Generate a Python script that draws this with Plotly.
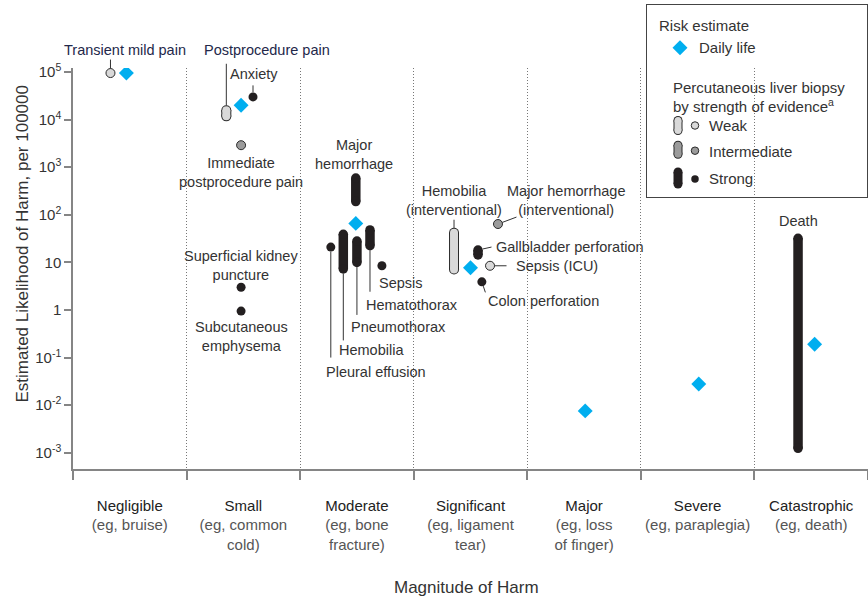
import math
import plotly.graph_objects as go

# ---------------- data ----------------
categories = ["Negligible", "Small", "Moderate", "Significant", "Major", "Severe", "Catastrophic"]
examples = ["(eg, bruise)", "(eg, common<br>cold)", "(eg, bone<br>fracture)", "(eg, ligament<br>tear)",
            "(eg, loss<br>of finger)", "(eg, paraplegia)", "(eg, death)"]

# Risk estimate, daily life (per 100000)
daily_life = [95000, 20000, 66, 7.7, 0.0076, 0.028, 0.19]
daily_offset = [-0.03, -0.02, -0.01, 0.0, 0.01, 0.01, 0.03]

# Percutaneous liver biopsy harms (per 100000)
harm_names = ["Transient mild pain", "Postprocedure pain", "Anxiety", "Immediate postprocedure pain",
              "Superficial kidney puncture", "Subcutaneous emphysema", "Major hemorrhage",
              "Pleural effusion", "Hemobilia", "Pneumothorax", "Hematothorax", "Sepsis",
              "Hemobilia (interventional)", "Gallbladder perforation", "Sepsis (ICU)",
              "Colon perforation", "Major hemorrhage (interventional)", "Death"]
harm_category = [0, 1, 1, 1, 1, 1, 2, 2, 2, 2, 2, 2, 3, 3, 3, 3, 3, 6]
harm_offset = [-0.17, -0.15, 0.085, -0.02, -0.02, -0.02, -0.01, -0.23, -0.12, 0.0, 0.115, 0.22,
               -0.145, 0.066, 0.172, 0.10, 0.242, -0.116]
harm_low = [95000, 11700, 30000, 2900, 3.0, 0.95, 190, 21, 7.3, 10, 22.5, 8.5, 7.1, 14.3, 8.5, 3.9, 64, 0.00124]
harm_high = [95000, 15700, 30000, 2900, 3.0, 0.95, 590, 21, 39, 28, 48, 8.5, 42, 18.2, 8.5, 3.9, 64, 32]
harm_evidence = ["Weak", "Weak", "Strong", "Intermediate", "Strong", "Strong", "Strong", "Strong",
                 "Strong", "Strong", "Strong", "Strong", "Weak", "Strong", "Weak", "Strong",
                 "Intermediate", "Strong"]

y_tick_vals = [1e-3, 1e-2, 1e-1, 1, 10, 1e2, 1e3, 1e4, 1e5]
y_tick_text = ["10<sup>-3</sup>", "10<sup>-2</sup>", "10<sup>-1</sup>", "1", "10",
               "10<sup>2</sup>", "10<sup>3</sup>", "10<sup>4</sup>", "10<sup>5</sup>"]

# ---------------- styles ----------------
FONT = "Liberation Sans, Arial, Helvetica, sans-serif"
DARK = "#231f20"
OUTLINE = "#2a2a2a"
FILL = {"Weak": "#d9d9d9", "Intermediate": "#9b9b9b", "Strong": DARK}
CYAN = "#00aeef"
TXT = "#333333"
NAVY = "#23284a"
AXC = "#858585"

# label placement: name -> (text, end, dx px, dy px (up), xanchor, color)
label_spec = {
    "Transient mild pain": ("Transient mild pain", "hi", 15, 23, "center", NAVY),
    "Postprocedure pain": ("Postprocedure pain", "hi", 41, 60, "center", NAVY),
    "Anxiety": ("Anxiety", "hi", 1, 22.6, "center", TXT),
    "Immediate postprocedure pain": ("Immediate<br>postprocedure pain", "hi", 0, -27.3, "center", TXT),
    "Superficial kidney puncture": ("Superficial kidney<br>puncture", "hi", 0, 22.3, "center", TXT),
    "Subcutaneous emphysema": ("Subcutaneous<br>emphysema", "hi", 0, -25.2, "center", TXT),
    "Major hemorrhage": ("Major<br>hemorrhage", "hi", -1.8, 23.9, "center", TXT),
    "Pleural effusion": ("Pleural effusion", "lo", 45, -124.6, "center", TXT),
    "Hemobilia": ("Hemobilia", "lo", 27.8, -81.1, "center", TXT),
    "Pneumothorax": ("Pneumothorax", "lo", 41.3, -64.9, "center", TXT),
    "Hematothorax": ("Hematothorax", "lo", 42.2, -59.3, "center", TXT),
    "Sepsis": ("Sepsis", "lo", 19, -17.5, "center", TXT),
    "Hemobilia (interventional)": ("Hemobilia<br>(interventional)", "hi", 0, 32.3, "center", TXT),
    "Gallbladder perforation": ("Gallbladder perforation", "hi", 16.3, 3.3, "left", TXT),
    "Sepsis (ICU)": ("Sepsis (ICU)", "hi", 24.3, 0, "left", TXT),
    "Colon perforation": ("Colon perforation", "hi", 62, -19.1, "center", TXT),
    "Major hemorrhage (interventional)": ("Major hemorrhage<br>(interventional)", "hi", 67.8, 23.6, "center", TXT),
    "Death": ("Death", "hi", 0, 17.4, "center", TXT),
}
# leader lines: name -> (end, ax px, ay px (down), standoff)
leader_spec = {
    "Transient mild pain": ("hi", 0, -15, 4.5),
    "Postprocedure pain": ("hi", 0, -48, 4.7),
    "Anxiety": ("hi", 0, -13, 4.5),
    "Pleural effusion": ("lo", 0, 112, 4.5),
    "Hemobilia": ("lo", 0, 73, 4.7),
    "Pneumothorax": ("lo", 0, 54, 4.7),
    "Hematothorax": ("lo", 0, 47.6, 4.7),
    "Hemobilia (interventional)": ("hi", 0, -14.5, 4.7),
    "Gallbladder perforation": ("hi", 15, -3.3, 5),
    "Sepsis (ICU)": ("hi", 18, 0, 4.5),
    "Colon perforation": ("hi", 4, 12, 4.5),
    "Major hemorrhage (interventional)": ("hi", 20, -7.5, 4.5),
}

fig = go.Figure()

harm_x = [c + o for c, o in zip(harm_category, harm_offset)]

# ---------- pills (ranges) ----------
def pill_xy(level):
    xs, ys = [], []
    for x, lo, hi, ev in zip(harm_x, harm_low, harm_high, harm_evidence):
        if ev == level and hi > lo:
            xs += [x, x, None]
            ys += [lo, hi, None]
    return xs, ys

xs, ys = pill_xy("Weak")
fig.add_trace(go.Scatter(x=xs, y=ys, mode="lines+markers", line=dict(color=OUTLINE, width=10),
                         marker=dict(size=10, color=OUTLINE), hoverinfo="skip"))
fig.add_trace(go.Scatter(x=xs, y=ys, mode="lines+markers", line=dict(color=FILL["Weak"], width=8),
                         marker=dict(size=8, color=FILL["Weak"]), hoverinfo="skip"))
xs, ys = pill_xy("Strong")
fig.add_trace(go.Scatter(x=xs, y=ys, mode="lines+markers", line=dict(color=DARK, width=9.5),
                         marker=dict(size=9.5, color=DARK), hoverinfo="skip"))

# ---------- single-value points ----------
for level in ["Weak", "Intermediate", "Strong"]:
    px_, py_ = [], []
    for x, lo, hi, ev in zip(harm_x, harm_low, harm_high, harm_evidence):
        if ev == level and hi == lo:
            px_.append(x)
            py_.append(lo)
    if px_:
        fig.add_trace(go.Scatter(x=px_, y=py_, mode="markers",
                                 marker=dict(size=9, color=FILL[level],
                                             line=dict(color=OUTLINE, width=0 if level == "Strong" else 1)),
                                 hoverinfo="skip"))

# ---------- daily life ----------
fig.add_trace(go.Scatter(x=[i + o for i, o in enumerate(daily_offset)], y=daily_life, mode="markers",
                         marker=dict(symbol="diamond", size=11.5, color=CYAN), hoverinfo="skip"))

# ---------- annotations ----------
annotations = []
for name, x, lo, hi in zip(harm_names, harm_x, harm_low, harm_high):
    text, end, dx, dy, xa, col = label_spec[name]
    yv = math.log10(hi if end == "hi" else lo)
    annotations.append(dict(x=x, y=yv, xref="x", yref="y", text=text, showarrow=False,
                            xshift=dx, yshift=dy, xanchor=xa, yanchor="middle", align="center",
                            font=dict(family=FONT, size=14.5, color=col)))
    if name in leader_spec:
        end, ax, ay, so = leader_spec[name]
        yv = math.log10(hi if end == "hi" else lo)
        annotations.append(dict(x=x, y=yv, xref="x", yref="y", text="", showarrow=True,
                                arrowhead=0, arrowwidth=1, arrowcolor="#333333",
                                ax=ax, ay=ay, standoff=so, font=dict(size=1)))

# axis titles
annotations.append(dict(x=-0.064, y=0.481, xref="paper", yref="paper", text="Estimated Likelihood of Harm, per 100000",
                        textangle=-90, showarrow=False, xanchor="center", yanchor="middle",
                        font=dict(family=FONT, size=17, color=TXT)))
annotations.append(dict(x=0.495, y=-0.2516, xref="paper", yref="paper", text="Magnitude of Harm",
                        showarrow=False, xanchor="center", yanchor="middle",
                        font=dict(family=FONT, size=17, color=TXT)))

# ---------- legend (own small axes, pixel-like units) ----------
legend_texts = [("Risk estimate", 656.7, 25), ("Daily life", 697, 47.7),
                ("Percutaneous liver biopsy", 671, 87.3), ("by strength of evidence<sup>a</sup>", 671, 105),
                ("Weak", 707, 125.5), ("Intermediate", 707, 151.5), ("Strong", 707, 178)]
for t, x, y in legend_texts:
    annotations.append(dict(x=x, y=y, xref="x2", yref="y2", text=t, showarrow=False,
                            xanchor="left", yanchor="middle", font=dict(family=FONT, size=15, color=TXT)))

fig.add_trace(go.Scatter(x=[680], y=[47.7], xaxis="x2", yaxis="y2", mode="markers",
                         marker=dict(symbol="diamond", size=11.5, color=CYAN), hoverinfo="skip"))
leg_rows = [("Weak", 125.5, 5), ("Intermediate", 149.7, 4.5), ("Strong", 178, 6)]
for level, yc, half in leg_rows:
    if level == "Strong":
        fig.add_trace(go.Scatter(x=[678, 678], y=[yc - half, yc + half], xaxis="x2", yaxis="y2",
                                 mode="lines+markers", line=dict(color=DARK, width=9),
                                 marker=dict(size=9, color=DARK), hoverinfo="skip"))
    else:
        fig.add_trace(go.Scatter(x=[678, 678], y=[yc - half, yc + half], xaxis="x2", yaxis="y2",
                                 mode="lines+markers", line=dict(color=OUTLINE, width=9),
                                 marker=dict(size=9, color=OUTLINE), hoverinfo="skip"))
        fig.add_trace(go.Scatter(x=[678, 678], y=[yc - half, yc + half], xaxis="x2", yaxis="y2",
                                 mode="lines+markers", line=dict(color=FILL[level], width=7),
                                 marker=dict(size=7, color=FILL[level]), hoverinfo="skip"))
    fig.add_trace(go.Scatter(x=[695], y=[yc + (1 if level != "Weak" else 0)], xaxis="x2", yaxis="y2",
                             mode="markers",
                             marker=dict(size=7.5, color=FILL[level],
                                         line=dict(color=OUTLINE, width=0 if level == "Strong" else 1)),
                             hoverinfo="skip"))

x_ticktext = [f"<span style='color:#222'>{c}</span><br><span style='color:#555'>{e}</span>"
              for c, e in zip(categories, examples)]

fig.update_layout(
    width=868, height=598, autosize=False,
    margin=dict(l=73, r=0, t=0, b=129, pad=0, autoexpand=False),
    paper_bgcolor="white", plot_bgcolor="rgba(0,0,0,0)",
    showlegend=False,
    font=dict(family=FONT, color=TXT),
    annotations=annotations,
    xaxis=dict(range=[-0.5, 6.5], domain=[0, 1], anchor="y", automargin=False,
               tickmode="array", tickvals=list(range(len(categories))), ticktext=x_ticktext,
               ticks="outside", ticklen=22, tickcolor="rgba(0,0,0,0)",
               tickfont=dict(family=FONT, size=15, color=TXT),
               showline=True, linecolor=AXC, linewidth=1.5, showgrid=False, zeroline=False,
               minor=dict(tickmode="array", tickvals=[i - 0.5 for i in range(len(categories) + 1)],
                          ticks="outside", ticklen=9, tickwidth=1.5, tickcolor=AXC,
                          showgrid=True, gridcolor="#777777", gridwidth=1, griddash="1px,2px")),
    yaxis=dict(type="log", range=[-3.34, 5.084], domain=[0, 401 / 469], anchor="x", automargin=False,
               tickmode="array", tickvals=y_tick_vals, ticktext=y_tick_text,
               ticks="outside", ticklen=7, tickwidth=1.5, tickcolor=AXC,
               tickfont=dict(family=FONT, size=15, color=TXT),
               showline=True, linecolor=AXC, linewidth=1.5, showgrid=False, zeroline=False),
    xaxis2=dict(range=[647, 867], domain=[(647 - 73) / 795, (867 - 73) / 795], anchor="y2", automargin=False,
                showline=True, mirror=True, linecolor="#444", linewidth=1,
                showticklabels=False, ticks="", showgrid=False, zeroline=False),
    yaxis2=dict(range=[197, 5], domain=[(469 - 197) / 469, (469 - 5) / 469], anchor="x2", automargin=False,
                showline=True, mirror=True, linecolor="#444", linewidth=1,
                showticklabels=False, ticks="", showgrid=False, zeroline=False),
)

fig.write_html("out.html", config={"displayModeBar": False},
               post_script="document.body.style.margin='0px';")
